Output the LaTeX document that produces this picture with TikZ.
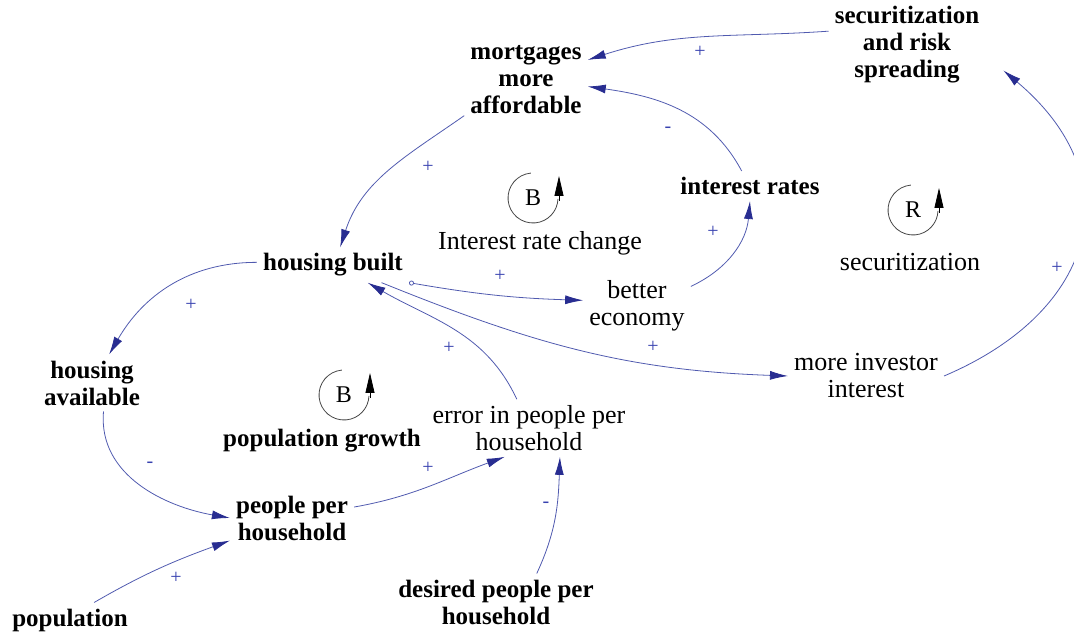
\documentclass[tikz,border=0pt]{standalone}
\usepackage{fontspec}
\setmainfont{Liberation Serif}
\usetikzlibrary{arrows.meta}
\definecolor{linkblue}{RGB}{80,90,175}
\definecolor{tipblue}{RGB}{40,45,145}
\definecolor{signblue}{RGB}{55,65,175}
\definecolor{loopgray}{RGB}{70,70,70}
\tikzset{
  var/.style={align=center,inner sep=6pt,font=\fontsize{25}{27}\selectfont\bfseries},
  varlight/.style={align=center,inner sep=6pt,font=\fontsize{26}{27}\selectfont},
  link/.style={draw=linkblue,line width=0.8pt,-{Latex[length=18pt,width=9pt,color=tipblue]}},
  sign/.style={text=signblue,font=\fontsize{20}{20}\selectfont,inner sep=0pt},
  loopletter/.style={font=\fontsize{24}{24}\selectfont,inner sep=0pt},
  looparc/.style={draw=loopgray,line width=0.8pt},
  looptip/.style={-{Triangle[length=20pt,width=9pt]},line width=0.8pt,black},
}
\begin{document}
\begin{tikzpicture}[x=1pt,y=1pt]
\useasboundingbox (0,0) rectangle (1074,637);

% variables
\node[var] (mort) at (526,557) {mortgages\\more\\affordable};
\node[var] (secr) at (907,592) {securitization\\and risk\\spreading};
\node[var] (intr) at (750,451) {interest rates};
\node[var] (hb) at (333,372) {housing built};
\node[varlight] (be) at (637,331) {better\\economy};
\node[var] (ha) at (92,254) {housing\\available};
\node[varlight] (err) at (529,209) {error in people per\\household};
\node[varlight] (mii) at (866,261) {more investor\\interest};
\node[var] (pph) at (292,119) {people per\\household};
\node[var] (pop) at (70,17) {population};
\node[var] (dpph) at (496,35) {desired people per\\household};

% loops
\node[loopletter] (loopB1) at (533,439) {B};
\node[varlight] (nameB1) at (540,394) {Interest rate change};
\node[loopletter] (loopR) at (913,427) {R};
\node[varlight] (nameR) at (910,375) {securitization};
\node[loopletter] (loopB2) at (344,242) {B};
\node[var] (nameB2) at (322,196) {population growth};
\draw[looparc] (loopB1.center) ++(95:25) arc (95:358:25);
\draw[looptip] (loopB1.center) ++(26,-3) -- ++(0,25);
\draw[looparc] (loopR.center) ++(95:25) arc (95:358:25);
\draw[looptip] (loopR.center) ++(26,-3) -- ++(0,25);
\draw[looparc] (loopB2.center) ++(95:25) arc (95:358:25);
\draw[looptip] (loopB2.center) ++(26,-3) -- ++(0,25);

% links
\draw [link] (secr.170) to [out=184,in=18] (mort.18);
\draw [link] (intr.119) to [out=118,in=-8] (mort.-6);
\draw [link] (mort.210) to [out=215,in=72] (hb.68);
\draw [link] (be.20) to [out=25,in=-95] (intr.south);
\draw [link,{Circle[open,length=5pt]}-{Latex[length=18pt,width=9pt,color=tipblue]}] (hb.south east) to [bend right=4] (be.174);
\draw [link] (hb.178) to [out=180,in=60] (ha.59);
\draw [link] (ha.-68) to [out=-95,in=170] (pph.west);
\draw [link] (pph.10) to [out=10,in=-160] (err.-130);
\draw [link] (err.113) to [out=115,in=-30] (hb.-27);
\draw [link] (hb.-20) to [out=-22,in=178] (mii.west);
\draw [link] (mii.east) to [out=23,in=-40,looseness=1.38] ([xshift=18pt]secr.-18);
\draw [link] (pop.36) to [out=30,in=200] (pph.200);
\draw [link] (dpph.35) to [out=65,in=-92] (err.-43);

% polarities
\node[sign] (s1) at (700,585) {+};
\node[sign] (s2) at (668,507) {-};
\node[sign] (s3) at (428,470) {+};
\node[sign] (s4) at (713,405) {+};
\node[sign] (s5) at (500,361) {+};
\node[sign] (s6) at (191,332) {+};
\node[sign] (s7) at (150,172) {-};
\node[sign] (s8) at (428,169) {+};
\node[sign] (s9) at (449,289) {+};
\node[sign] (s10) at (653,290) {+};
\node[sign] (s11) at (1057,369) {+};
\node[sign] (s12) at (176,59) {+};
\node[sign] (s13) at (546,132) {-};
\end{tikzpicture}
\end{document}
